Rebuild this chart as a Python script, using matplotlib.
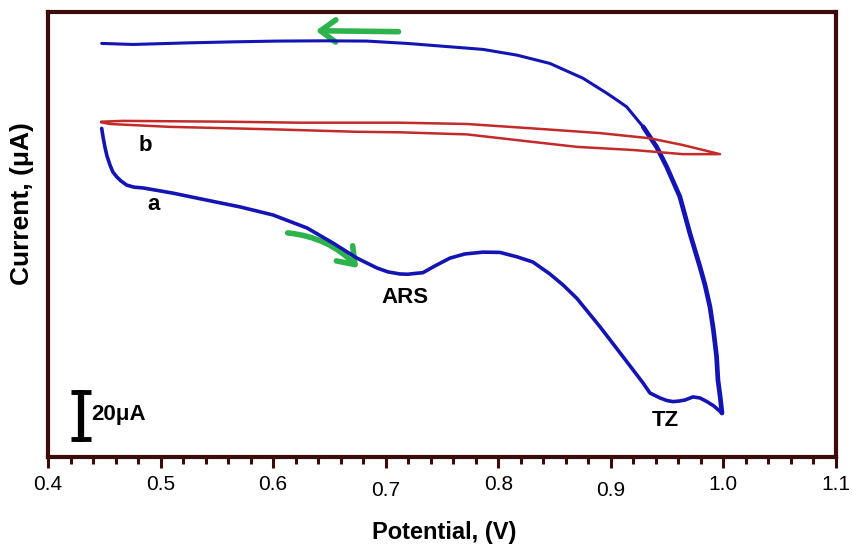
import matplotlib
matplotlib.use("Agg")
import matplotlib.pyplot as plt
import matplotlib.transforms as mtransforms
from matplotlib.patches import FancyArrowPatch

plt.rcParams['font.family'] = ['Liberation Sans', 'DejaVu Sans']

# curve a (blue): forward scan (lower branch) and reverse scan (upper branch)
a_fwd_v = [0.4477, 0.4489, 0.4506, 0.4524, 0.4551, 0.4577, 0.4610, 0.4648, 0.4699,
           0.4764, 0.4844, 0.5110, 0.5412, 0.5706, 0.5999, 0.6301, 0.6532, 0.6745,
           0.6923, 0.7020, 0.7127, 0.7198, 0.7260, 0.7331, 0.7438, 0.7571, 0.7704,
           0.7864, 0.8015, 0.8166, 0.8308, 0.8459, 0.8575, 0.8699, 0.8904, 0.9108,
           0.9286, 0.9348, 0.9437, 0.9499, 0.9552, 0.9606, 0.9659, 0.9730, 0.9792,
           0.9854, 0.9916, 0.9988]
a_fwd_i = [126.4, 123.1, 119.2, 115.8, 112.3, 109.6, 107.8, 106.2, 104.6,
           103.8, 103.5, 101.5, 98.8, 96.2, 93.1, 88.1, 82.3, 76.5,
           72.7, 71.2, 70.4, 70.3, 70.6, 70.9, 73.5, 76.5, 78.1,
           78.8, 78.7, 77.0, 75.0, 70.4, 66.2, 61.0, 50.1, 38.6,
           28.5, 24.6, 22.7, 21.7, 21.3, 21.5, 21.9, 23.1, 22.7,
           21.3, 19.6, 16.9]
a_rev_v = [0.9988, 0.9970, 0.9952, 0.9940, 0.9912, 0.9881, 0.9837, 0.9792, 0.9703,
           0.9614, 0.9496, 0.9407, 0.9288, 0.9141, 0.9055, 0.8966, 0.8753,
           0.8459, 0.8166, 0.7864, 0.7571, 0.7189, 0.6834, 0.6443, 0.6034, 0.5643,
           0.5235, 0.4755, 0.4477]
a_rev_i = [16.9, 23.8, 29.6, 38.6, 48.8, 57.8, 66.2, 73.2, 86.0,
           100.1, 111.7, 119.3, 127.0, 134.7, 137.3, 139.9, 145.7,
           151.4, 154.6, 156.8, 157.8, 159.1, 160.0, 160.1, 160.0, 159.7,
           159.3, 158.7, 159.1]

# curve b (red): thin closed loop
b_v = [0.4477, 0.4666, 0.5555, 0.6239, 0.7127, 0.7722, 0.8308, 0.8904, 0.9348,
       0.9641, 0.9970, 0.9641, 0.9197, 0.8699, 0.8166, 0.7722, 0.7127, 0.6745,
       0.6034, 0.5084, 0.4551, 0.4477]
b_i = [129.0, 129.3, 129.0, 128.6, 128.6, 128.1, 126.4, 124.6, 122.6,
       120.0, 116.5, 116.5, 118.1, 119.3, 121.9, 124.1, 124.9, 125.1,
       126.0, 127.0, 128.1, 128.7]

xticks = [0.4, 0.5, 0.6, 0.7, 0.8, 0.9, 1.0, 1.1]
xtick_labels = ['0.4', '0.5', '0.6', '0.7', '0.8', '0.9', '1.0', '1.1']

blue = '#1414b4'
red = '#c42a2a'
green = '#2db34c'
frame = '#3a0c0c'

fig = plt.figure(figsize=(8.54, 5.44), dpi=100)
ax = fig.add_axes([0.0562, 0.160, 0.9226, 0.818])

ax.plot(a_fwd_v, a_fwd_i, color=blue, lw=2.6, solid_capstyle='round', solid_joinstyle='round')
ax.plot(a_rev_v[:13], a_rev_i[:13], color=blue, lw=3.4, solid_capstyle='round',
        solid_joinstyle='round')
ax.plot(a_rev_v[12:], a_rev_i[12:], color=blue, lw=2.2, solid_capstyle='round',
        solid_joinstyle='round')
ax.plot(b_v, b_i, color=red, lw=1.8, solid_joinstyle='round')

# scan direction arrows
ax.add_patch(FancyArrowPatch((0.7139, 163.6), (0.6354, 164.0),
                             arrowstyle='->,head_length=0.55,head_width=0.4',
                             mutation_scale=20, lw=4, color=green))
ax.add_patch(FancyArrowPatch((0.6105, 86.3), (0.6772, 71.9),
                             connectionstyle='arc3,rad=-0.2',
                             arrowstyle='->,head_length=0.55,head_width=0.4',
                             mutation_scale=20, lw=4, color=green))

# labels
ax.text(0.4862, 120.0, 'b', fontsize=16, fontweight='bold', ha='center', va='center')
ax.text(0.4935, 97.3, 'a', fontsize=16, fontweight='bold', ha='center', va='center')
ax.text(0.7171, 61.5, 'ARS', fontsize=16, fontweight='bold', ha='center', va='center')
ax.text(0.9481, 14.2, 'TZ', fontsize=16, fontweight='bold', ha='center', va='center')

# 20 uA scale bar
ax.plot([0.4293, 0.4293], [5.8, 25.8], color='black', lw=4.5, solid_capstyle='butt')
ax.plot([0.4204, 0.4382], [24.8, 24.8], color='black', lw=3.5, solid_capstyle='butt')
ax.plot([0.4204, 0.4382], [6.8, 6.8], color='black', lw=3.5, solid_capstyle='butt')
ax.text(0.4385, 16.2, '20μA', fontsize=16, fontweight='bold', ha='left', va='center')

ax.set_xlim(0.4, 1.1)
ax.set_ylim(0, 171.2)
ax.set_xticks(xticks, xtick_labels)
ax.set_xticks([0.4 + 0.02 * k for k in range(36)], minor=True)
ax.set_yticks([])
ax.tick_params(axis='x', which='major', direction='out', length=8, width=2.2,
               color=frame, pad=5, labelsize=15)
ax.tick_params(axis='x', which='minor', direction='out', length=5, width=2.2, color=frame)
for sp in ax.spines.values():
    sp.set_color(frame)
    sp.set_linewidth(3)

for lab in ax.get_xticklabels():
    if lab.get_text() in ('0.7', '0.9'):
        lab.set_transform(lab.get_transform() +
                          mtransforms.ScaledTranslation(0, -4 / 72, fig.dpi_scale_trans))

fig.text(444 / 854, 1 - 532 / 544, 'Potential, (V)', fontsize=17, fontweight='bold',
         ha='center', va='center')
fig.text(22 / 854, 1 - 204 / 544, 'Current, (μA)', fontsize=19, fontweight='bold',
         ha='center', va='center', rotation=90)

fig.savefig('out.png', dpi=100)
